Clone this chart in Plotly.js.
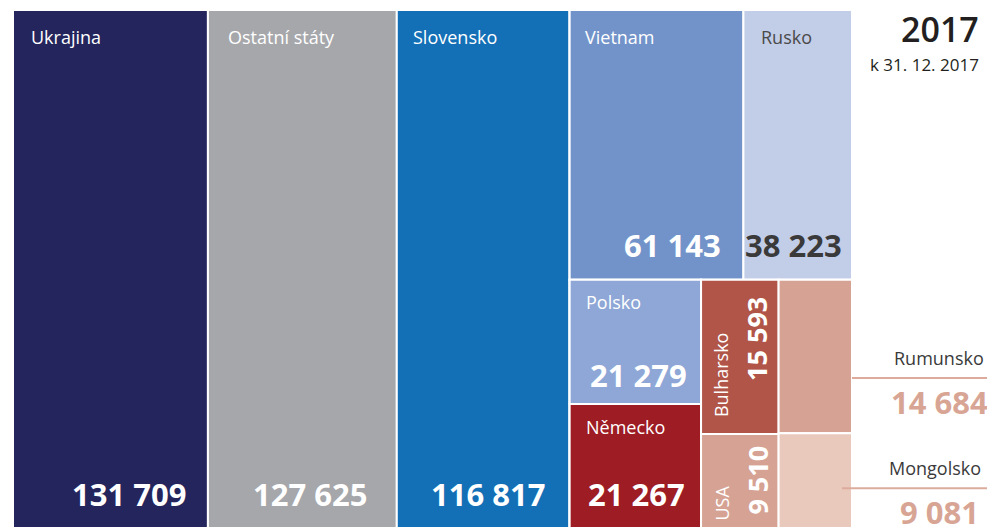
<!DOCTYPE html>
<html><head><meta charset="utf-8">
<script src="https://cdn.plot.ly/plotly-3.0.1.min.js"></script>
<style>html,body{margin:0;padding:0;background:#fff;overflow:hidden}#chart{width:987px;height:529px}</style>
</head><body><div id="chart"></div>
<script>
// ---------------- data ----------------
const countries = ['Ukrajina','Ostatní státy','Slovensko','Vietnam','Rusko','Polsko','Německo','Bulharsko','USA','Rumunsko','Mongolsko'];
const residents = [131709,127625,116817,61143,38223,21279,21267,15593,9510,14684,9081];
const countryColors = ['#23255c','#a6a7ab','#136fb6','#7293c9','#c2cde8','#8ea7d6','#9e1c23','#b05548','#d5a293','#d5a293','#eac9bd'];
// tree structure (ids in drawing order, with their parents)
const nodeIds = ['root','Ukrajina','Ostatní státy','Slovensko','rest','top','Vietnam','Rusko','bottom','c1','Polsko','Německo','c2','Bulharsko','USA','c3','Rumunsko','Mongolsko'];
const nodeParents = ['','root','root','root','root','rest','top','top','rest','bottom','c1','c1','bottom','c2','c2','bottom','c3','c3'];
const titleText = '2017';
const subtitleText = 'k 31. 12. 2017';

// ---------------- build ----------------
const W = 987, H = 529;
const X0 = 13, X1 = 852, Y0 = 10, Y1 = 528;
const px = x => x / W, py = y => 1 - y / H;
const fmt = v => String(v).replace(/\B(?=(\d{3})+(?!\d))/g, ' ');

const nodeValues = nodeIds.map(id => { const i = countries.indexOf(id); return i >= 0 ? residents[i] : 0; });
const nodeColors = nodeIds.map(id => { const i = countries.indexOf(id); return i >= 0 ? countryColors[i] : '#ffffff'; });
const nodeLabels = nodeIds.map(id => countries.indexOf(id) >= 0 ? id : '');

// totals
const total = {};
function sumNode(id) {
  let s = nodeValues[nodeIds.indexOf(id)];
  nodeIds.forEach((n, i) => { if (nodeParents[i] === id) s += sumNode(n); });
  total[id] = s; return s;
}
sumNode('root');
// slice-dice rectangles (same rule as the treemap) for label placement
const rects = {};
function tile(id, x0, y0, x1, y1, depth) {
  rects[id] = {x0, y0, x1, y1};
  const kids = nodeIds.filter((n, i) => nodeParents[i] === id);
  if (!kids.length) return;
  const tot = kids.reduce((s, k) => s + total[k], 0);
  let pos = depth % 2 === 0 ? x0 : y0;
  kids.forEach(k => {
    const f = total[k] / tot;
    if (depth % 2 === 0) { const w = (x1 - x0) * f; tile(k, pos, y0, pos + w, y1, depth + 1); pos += w; }
    else { const h = (y1 - y0) * f; tile(k, x0, pos, x1, pos + h, depth + 1); pos += h; }
  });
}
tile('root', X0, Y0, X1, Y1, 0);

const FONT = 'Open Sans, Noto Sans, sans-serif';
const LS = 18, VS = 31, RVS = 27;
const styles = {
  'Ukrajina':      {mode:'in', lc:'#fff', vc:'#fff', lp:[17,20], vp:[21,21]},
  'Ostatní státy': {mode:'in', lc:'#fff', vc:'#fff', lp:[19,20], vp:[29,21]},
  'Slovensko':     {mode:'in', lc:'#fff', vc:'#fff', lp:[15,20], vp:[24,21]},
  'Vietnam':       {mode:'in', lc:'#fff', vc:'#fff', lp:[14,20], vp:[21,22]},
  'Rusko':         {mode:'in', lc:'#4a4a4a', vc:'#3a3a3a', lp:[17,20], vp:[9,22]},
  'Polsko':        {mode:'in', lc:'#fff', vc:'#fff', lp:[15,16], vp:[13,16]},
  'Německo':       {mode:'in', lc:'#fff', vc:'#fff', lp:[15,16], vp:[15,21]},
  'Bulharsko':     {mode:'rot', lx:27, lb:16, vx:11, vt:16},
  'USA':           {mode:'rot', lx:27, lb:6, vx:11, vt:11},
  'Rumunsko':      {mode:'out', frac:0.64, inset:0, lrp:2, vrp:-2},
  'Mongolsko':     {mode:'out', frac:0.58, inset:10, lrp:5, vrp:7}
};

const annotations = [], shapes = [];
countries.forEach((c, i) => {
  const r = rects[c], s = styles[c], val = fmt(residents[i]);
  if (s.mode === 'in') {
    annotations.push({text: c, x: px(r.x0 + s.lp[0]), y: py(r.y0 + s.lp[1] - 0.355 * LS), xanchor:'left', yanchor:'top',
      font:{family:FONT, size:LS, color:s.lc}});
    annotations.push({text: val, x: px(r.x1 - s.vp[0]), y: py(r.y1 - s.vp[1] + 0.293 * VS), xanchor:'right', yanchor:'bottom',
      font:{family:FONT, size:VS, color:s.vc, weight:700}});
  } else if (s.mode === 'rot') {
    annotations.push({text: c, textangle:-90, x: px(r.x0 + s.lx - 0.388 * LS), y: py(r.y1 - s.lb), xanchor:'center', yanchor:'bottom',
      font:{family:FONT, size:LS, color:'#fff'}});
    annotations.push({text: val, textangle:-90, x: px(r.x1 - s.vx - 0.388 * RVS), y: py(r.y0 + s.vt), xanchor:'center', yanchor:'top',
      font:{family:FONT, size:RVS, color:'#fff', weight:700}});
  } else {
    const ly = r.y0 + s.frac * (r.y1 - r.y0);
    shapes.push({type:'line', xref:'paper', yref:'paper', x0: px(r.x1 - s.inset), x1: 1, y0: py(ly), y1: py(ly),
      line:{color:'#dcab9c', width:2}});
    annotations.push({text: c, x: px(W - s.lrp), y: py(ly - 12 + 0.293 * LS), xanchor:'right', yanchor:'bottom',
      font:{family:FONT, size:LS, color:'#3a3a3a'}});
    annotations.push({text: val, x: px(W - s.vrp), y: py(ly + 13 - 0.355 * VS), xanchor:'right', yanchor:'top',
      font:{family:FONT, size:VS, color:'#d8a595', weight:700}});
  }
});
annotations.forEach(a => { a.showarrow = false; a.xref = 'paper'; a.yref = 'paper'; a.borderpad = 0; });
annotations.push({text: titleText, x: px(980), y: py(17 - 0.355 * 34), xref:'paper', yref:'paper', xanchor:'right', yanchor:'top', showarrow:false, borderpad:0,
  font:{family:FONT, size:34, color:'#231f20', weight:600}});
annotations.push({text: subtitleText, x: px(980), y: py(52), xref:'paper', yref:'paper', xanchor:'right', yanchor:'top', showarrow:false, borderpad:0,
  font:{family:FONT, size:17, color:'#231f20'}});

const trace = {
  type: 'treemap', ids: nodeIds, labels: nodeLabels, parents: nodeParents, values: nodeValues,
  branchvalues: 'remainder', sort: false,
  tiling: {packing: 'slice-dice', pad: 0},
  marker: {colors: nodeColors, line: {color: '#ffffff', width: 2}, pad: {t:0, l:0, r:0, b:0}},
  leaf: {opacity: 1}, pathbar: {visible: false}, textinfo: 'none',
  hoverinfo: 'label+value',
  domain: {x: [px(X0), px(X1)], y: [py(Y1), py(Y0)]}
};
Plotly.newPlot('chart', [trace], {
  width: W, height: H, margin: {l:0, r:0, t:0, b:0},
  paper_bgcolor: '#ffffff', showlegend: false,
  annotations: annotations, shapes: shapes
}, {displayModeBar: false, staticPlot: true});
</script></body></html>
